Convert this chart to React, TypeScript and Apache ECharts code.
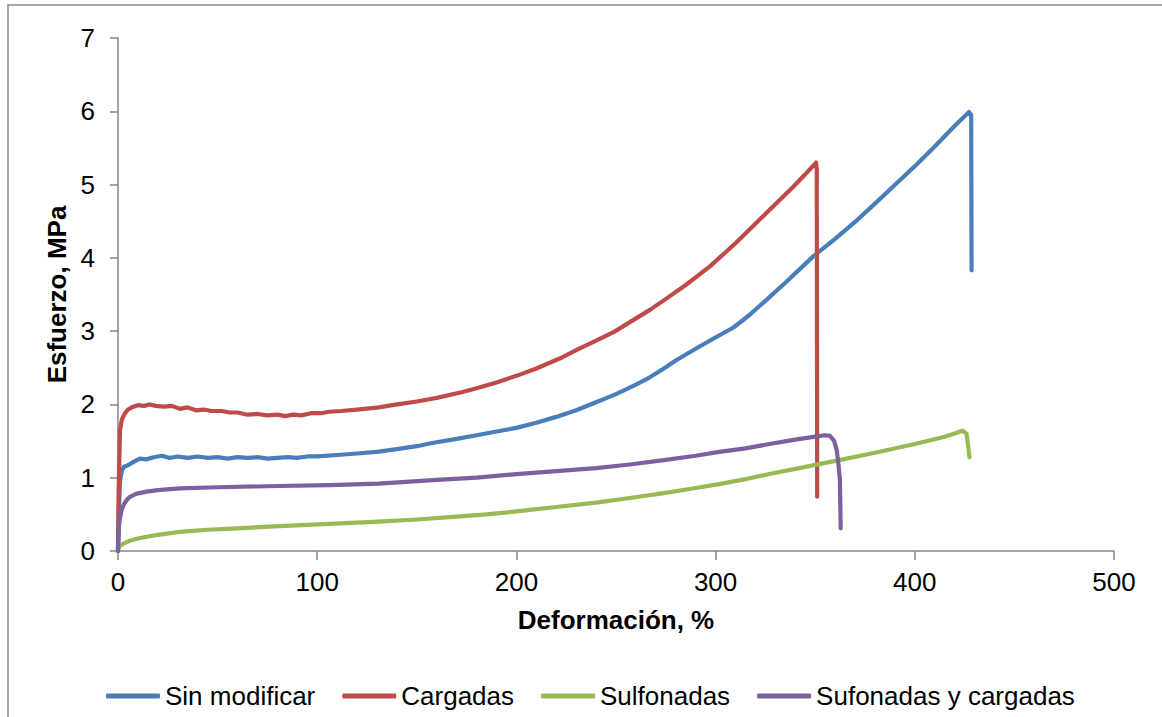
import React, { useEffect, useRef } from "react";
import * as echarts from "echarts";

const seriesNames = ["Sin modificar", "Cargadas", "Sulfonadas", "Sufonadas y cargadas"];
const seriesColors = ["#4A7EBB", "#BE4B48", "#98B954", "#7D60A0"];

const xTicks = [0, 100, 200, 300, 400, 500];
const yTicks = [0, 1, 2, 3, 4, 5, 6, 7];

const sinModificar: number[][] = [
  [0, 0], [0.5, 0.6], [1, 0.95], [2, 1.1], [3, 1.15], [5, 1.17], [8, 1.22], [11, 1.26], [14, 1.25],
  [18, 1.28], [22, 1.3], [26, 1.27], [30, 1.29], [35, 1.27], [40, 1.29], [45, 1.27], [50, 1.28],
  [55, 1.26], [60, 1.28], [65, 1.27], [70, 1.28], [75, 1.26], [80, 1.27], [85, 1.28], [90, 1.27],
  [95, 1.29], [100, 1.29], [110, 1.31], [120, 1.33], [131, 1.355], [140, 1.39], [150, 1.43],
  [157, 1.47], [170, 1.53], [180, 1.58], [190, 1.63], [200, 1.68], [210, 1.75], [220, 1.83],
  [230, 1.92], [240, 2.03], [250, 2.14], [260, 2.27], [267, 2.37], [274, 2.49], [280, 2.6],
  [290, 2.76], [299, 2.9], [309, 3.05], [317, 3.22], [324, 3.39], [335, 3.66], [349, 4.02],
  [360, 4.26], [370, 4.49], [380, 4.74], [389, 4.97], [400, 5.25], [410, 5.52], [420, 5.8],
  [427.2, 5.99], [428.3, 5.95], [428.5, 3.83],
];

const cargadas: number[][] = [
  [0, 0], [0.3, 0.8], [1, 1.65], [2, 1.8], [3.5, 1.88], [5, 1.93], [7.7, 1.97], [10, 1.99],
  [13, 1.98], [16, 2.0], [19, 1.98], [23, 1.97], [27, 1.98], [31, 1.94], [35, 1.96], [39, 1.92],
  [43, 1.93], [47, 1.91], [52, 1.91], [56, 1.89], [60, 1.89], [65, 1.86], [70, 1.87], [75, 1.85],
  [80, 1.86], [84, 1.84], [88, 1.86], [92, 1.85], [97, 1.88], [102, 1.88], [106, 1.9], [112, 1.91],
  [120, 1.93], [131, 1.96], [140, 2.0], [150, 2.04], [160, 2.09], [173, 2.17], [180, 2.22],
  [190, 2.3], [200, 2.39], [210, 2.49], [222, 2.63], [230, 2.74], [240, 2.87], [249, 2.99],
  [258, 3.14], [267, 3.29], [274, 3.42], [285, 3.63], [297, 3.88], [310, 4.2], [322, 4.52],
  [330, 4.73], [339, 4.97], [345, 5.14], [350.4, 5.3], [350.8, 5.2], [351, 0.74],
];

const sulfonadas: number[][] = [
  [0, 0.03], [1, 0.07], [2.7, 0.1], [6, 0.14], [10, 0.17], [14.4, 0.195], [20, 0.22], [31, 0.26],
  [45, 0.29], [60, 0.31], [81, 0.34], [106, 0.37], [131, 0.4], [150, 0.43], [170, 0.47],
  [185, 0.5], [200, 0.54], [220, 0.6], [240, 0.66], [256, 0.72], [274, 0.79], [290, 0.86],
  [301, 0.91], [315, 0.98], [327, 1.05], [340, 1.12], [362, 1.24], [380, 1.34], [400, 1.46],
  [415, 1.56], [424, 1.64], [426, 1.6], [427.5, 1.28],
];

const sufonadasCargadas: number[][] = [
  [0, 0], [0.5, 0.35], [1, 0.45], [1.8, 0.56], [3, 0.64], [4.5, 0.7], [6, 0.74], [9, 0.78],
  [14.4, 0.81], [20, 0.83], [31, 0.855], [50, 0.87], [81, 0.887], [106, 0.9], [131, 0.92],
  [160, 0.97], [180, 1.0], [200, 1.05], [220, 1.09], [240, 1.13], [257, 1.18], [274, 1.24],
  [290, 1.3], [301, 1.35], [315, 1.4], [327, 1.46], [340, 1.52], [350, 1.56], [355, 1.58],
  [357.5, 1.57], [359.5, 1.5], [360.8, 1.38], [361.8, 1.15], [362.4, 0.97], [362.8, 0.31],
];

const allSeries = [sinModificar, cargadas, sulfonadas, sufonadasCargadas];

const FONT = "'Liberation Sans', Arial, sans-serif";
const AXIS_COLOR = "#868686";

export default function App() {
  const ref = useRef<HTMLDivElement>(null);
  useEffect(() => {
    if (!ref.current) return;
    const chart = echarts.init(ref.current, undefined, { renderer: "svg" });
    chart.setOption({
      animation: false,
      backgroundColor: "#ffffff",
      graphic: [
        {
          type: "rect",
          shape: { x: 8, y: 5, width: 1400, height: 1000 },
          style: { fill: "none", stroke: "#8a8a8a", lineWidth: 1.5 },
          silent: true,
          z: -1,
        },
      ],
      grid: { left: 118, right: 48, top: 38, bottom: 166, containLabel: false },
      legend: {
        left: 101,
        top: 678,
        itemWidth: 54,
        itemHeight: 5,
        itemGap: 27,
        icon: "roundRect",
        textStyle: { fontFamily: FONT, fontSize: 26, color: "#000" },
        data: seriesNames,
      },
      xAxis: {
        type: "value",
        min: 0,
        max: 500,
        interval: 100,
        name: "Deformación, %",
        nameLocation: "middle",
        nameGap: 56,
        nameTextStyle: { fontFamily: FONT, fontSize: 26, fontWeight: "bold", color: "#000" },
        axisLine: { onZero: false, lineStyle: { color: AXIS_COLOR, width: 1.5 } },
        axisTick: { show: true, length: 9, lineStyle: { color: AXIS_COLOR, width: 1.5 } },
        axisLabel: {
          margin: 18,
          fontFamily: FONT,
          fontSize: 26,
          color: "#000",
          formatter: (v: number) => (xTicks.includes(v) ? String(v) : ""),
        },
        splitLine: { show: false },
      },
      yAxis: {
        type: "value",
        min: 0,
        max: 7,
        interval: 1,
        name: "Esfuerzo, MPa",
        nameLocation: "middle",
        nameGap: 48,
        nameTextStyle: { fontFamily: FONT, fontSize: 26, fontWeight: "bold", color: "#000" },
        axisLine: { show: true, lineStyle: { color: AXIS_COLOR, width: 1.5 } },
        axisTick: { show: true, length: 8, lineStyle: { color: AXIS_COLOR, width: 1.5 } },
        axisLabel: {
          margin: 23,
          fontFamily: FONT,
          fontSize: 26,
          color: "#000",
          formatter: (v: number) => (yTicks.includes(v) ? String(v) : ""),
        },
        splitLine: { show: false },
      },
      series: allSeries.map((d, i) => ({
        name: seriesNames[i],
        type: "line",
        data: d,
        showSymbol: false,
        symbol: "none",
        smooth: false,
        clip: false,
        color: seriesColors[i],
        lineStyle: { color: seriesColors[i], width: 4.2, cap: "round", join: "round" },
        itemStyle: { color: seriesColors[i] },
      })),
    });
    return () => chart.dispose();
  }, []);
  return (
    <div
      ref={ref}
      style={{ position: "fixed", left: 0, top: 0, width: 1162, height: 717, background: "#fff" }}
    />
  );
}
